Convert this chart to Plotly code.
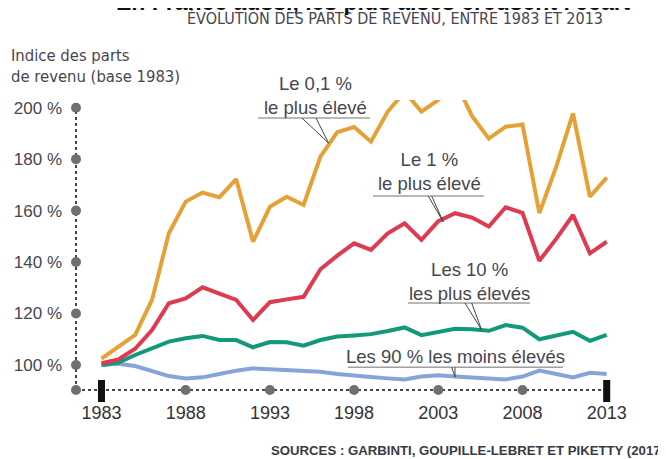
import plotly.graph_objects as go

# ---------------- data ----------------
years = list(range(1983, 2014))
top_01 = [102.5, 107.0, 111.7, 125.3, 151.2, 163.5, 167.0, 165.2, 172.2, 147.9,
          161.5, 165.4, 162.2, 181.0, 190.5, 192.5, 186.8, 198.5, 206.2, 198.5,
          203.0, 210.3, 196.8, 188.0, 192.6, 193.5, 159.0, 177.0, 197.8, 165.4, 172.8]
top_1 = [100.7, 102.2, 106.3, 113.6, 124.0, 125.9, 130.2, 127.9, 125.3, 117.5,
         124.4, 125.5, 126.5, 137.2, 142.5, 147.3, 144.7, 151.2, 155.1, 148.6,
         155.9, 159.0, 157.3, 153.8, 161.3, 159.1, 140.5, 149.0, 158.3, 143.4, 147.9]
top_10 = [100.0, 100.9, 103.9, 106.5, 109.1, 110.4, 111.3, 109.7, 109.7, 106.9,
          108.9, 108.8, 107.5, 109.7, 111.1, 111.5, 112.0, 113.2, 114.6, 111.6,
          112.9, 114.1, 113.9, 113.3, 115.5, 114.5, 110.0, 111.3, 112.9, 109.4, 111.7]
bottom_90 = [100.0, 100.5, 99.6, 97.8, 95.7, 94.8, 95.2, 96.5, 97.8, 98.7,
             98.4, 98.1, 97.8, 97.4, 96.5, 95.8, 95.3, 94.8, 94.4, 95.5,
             96.0, 95.5, 95.1, 94.7, 94.4, 95.5, 97.8, 96.5, 95.2, 97.0, 96.5]

y_ticks = [100, 120, 140, 160, 180, 200]
y_tick_labels = ["100 %", "120 %", "140 %", "160 %", "180 %", "200 %"]
x_ticks = [1983, 1988, 1993, 1998, 2003, 2008, 2013]
x_tick_labels = ["1983", "1988", "1993", "1998", "2003", "2008", "2013"]
x_dot_years = [1988, 1993, 1998, 2003, 2008]
x_end_years = [1983, 2013]

series_names = ["Les 90 % les moins élevés", "Les 10 % les plus élevés",
                "Le 1 % le plus élevé", "Le 0,1 % le plus élevé"]
series_values = [bottom_90, top_10, top_1, top_01]
series_colors = ["#85A5D8", "#12997A", "#DE3A50", "#E6A136"]

# ---------------- layout geometry ----------------
# page body has an 8px margin: positions below are screen targets minus OFF
OFF = 8
W, H = 666, 459
PL, PR, PT, PB = 76, 620, 100, 390          # plot box on screen
L, R, T, B = PL - OFF, W - (PR - OFF), PT - OFF, H - (PB - OFF)
X0, X1 = 1981.486, 2013.79
Y0, Y1 = 90.284, 202.99
PW, PH = PR - PL, PB - PT


def xp(px):
    return (px - PL) / PW


def yp(py):
    return (PB - py) / PH


def xd(px):
    return X0 + (px - PL) / PW * (X1 - X0)


def yd(py):
    return Y1 - (py - PT) / PH * (Y1 - Y0)


REG = "Liberation Sans, Arial, sans-serif"
NAR = "DejaVu Sans Condensed, Liberation Sans Narrow, sans-serif"
TXT = "#46464f"

fig = go.Figure()

for name, vals, col in zip(series_names, series_values, series_colors):
    fig.add_trace(go.Scatter(x=years, y=vals, mode="lines", name=name,
                             line=dict(color=col, width=4), cliponaxis=False,
                             hoverinfo="skip"))

# axis dots
fig.add_trace(go.Scatter(
    x=[X0] * (len(y_ticks) + 1) + x_dot_years,
    y=y_ticks + [Y0] + [Y0] * len(x_dot_years),
    mode="markers", marker=dict(size=10, color="#6f6f6f"),
    cliponaxis=False, hoverinfo="skip"))

shapes = []
shapes.append(dict(type="line", xref="paper", yref="y", x0=0, x1=0, y0=Y0, y1=200,
                   line=dict(color="#444", width=2, dash="dot"), layer="below"))
shapes.append(dict(type="line", xref="x", yref="paper", x0=X0, x1=2013, y0=0, y1=0,
                   line=dict(color="#444", width=2, dash="dot"), layer="below"))
for yr in x_end_years:
    shapes.append(dict(type="rect", xref="x", yref="paper",
                       x0=yr - 0.21, x1=yr + 0.21, y0=yp(402), y1=yp(380),
                       fillcolor="#111", line=dict(width=0), layer="above"))

annotations = []


def label(text, cx, cy, ul_x0, ul_x1, ul_y, ptr_from, ptr_to):
    annotations.append(dict(text=text, x=xp(cx), y=yp(cy), xref="paper", yref="paper",
                            showarrow=False, xanchor="center", yanchor="middle",
                            font=dict(family=REG, size=18.5, color=TXT)))
    shapes.append(dict(type="line", xref="x", yref="y", x0=xd(ul_x0), x1=xd(ul_x1),
                       y0=yd(ul_y), y1=yd(ul_y), line=dict(color="#a0a0a0", width=1.5)))
    for fx in ptr_from:
        shapes.append(dict(type="line", xref="x", yref="y", x0=xd(fx), y0=yd(ul_y),
                           x1=xd(ptr_to[0]), y1=yd(ptr_to[1]),
                           line=dict(color="#444", width=1)))


label("Le 0,1 %<br>le plus élevé", 315, 95, 258, 370, 118, [302, 316], (328.5, 143))
label("Le 1 %<br>le plus élevé", 429, 171.5, 373, 484, 196, [428.3, 431.7], (443.3, 222))
label("Les 10 %<br>les plus élevés", 469, 281, 408, 530, 303, [465, 471.7], (481.7, 330))
label("Les 90 % les moins élevés", 455.7, 356.7, 348, 563, 367.3, [451.7, 455], (455, 377))

annotations.append(dict(text="Indice des parts<br>de revenu (base 1983)",
                        x=xp(9), y=yp(66.5), xref="paper", yref="paper",
                        showarrow=False, xanchor="left", yanchor="middle", align="left",
                        font=dict(family=NAR, size=16.5, color=TXT)))
annotations.append(dict(text="ÉVOLUTION DES PARTS DE REVENU, ENTRE 1983 ET 2013",
                        x=xp(395), y=yp(18), xref="paper", yref="paper",
                        showarrow=False, xanchor="center", yanchor="middle",
                        font=dict(family=NAR, size=16, color=TXT)))
annotations.append(dict(text="<b>En France aussi, les plus aisés creusent l'écart</b>",
                        x=xp(373), y=yp(17.5), xref="paper", yref="paper",
                        showarrow=False, xanchor="center", yanchor="bottom",
                        font=dict(family=REG, size=23, color="#111")))
annotations.append(dict(text="<b>SOURCES : GARBINTI, GOUPILLE-LEBRET ET PIKETTY (2017)</b>",
                        x=xp(269), y=yp(450), xref="paper", yref="paper",
                        showarrow=False, xanchor="left", yanchor="middle",
                        font=dict(family=REG, size=13.2, color="#3a3a44")))

fig.update_layout(
    width=W, height=H, margin=dict(l=L, r=R, t=T, b=B, autoexpand=False),
    paper_bgcolor="white", plot_bgcolor="rgba(0,0,0,0)",
    showlegend=False, shapes=shapes, annotations=annotations,
    xaxis=dict(range=[X0, X1], tickvals=x_ticks, ticktext=x_tick_labels,
               showgrid=False, zeroline=False, showline=False, ticks="",
               ticklabelstandoff=10, automargin=False,
               tickfont=dict(family=REG, size=18, color="#333")),
    yaxis=dict(range=[Y0, Y1], tickvals=y_ticks, ticktext=y_tick_labels,
               showgrid=False, zeroline=False, showline=False, ticks="",
               ticklabelstandoff=13, automargin=False,
               tickfont=dict(family=REG, size=17, color=TXT)),
)

fig.write_html("out.html")
